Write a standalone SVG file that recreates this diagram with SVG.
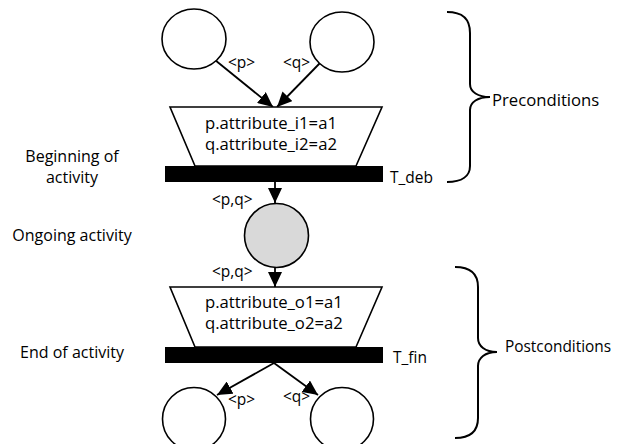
<svg xmlns="http://www.w3.org/2000/svg" width="620" height="444" viewBox="0 0 620 444">
<style>
.t{font-family:"Open Sans","Liberation Sans",sans-serif;font-size:16px;fill:#000}
.g{font-family:"Open Sans","Liberation Sans",sans-serif;font-size:16.7px;fill:#000}
.s{font-family:"Open Sans","Liberation Sans",sans-serif;font-size:15.5px;fill:#000}
.m{text-anchor:middle}
.pl{fill:#fff;stroke:#000;stroke-width:1.6}
.bar{fill:#000}
.ar{stroke:#000;stroke-width:1.8;fill:none;marker-end:url(#ah)}
.br{stroke:#000;stroke-width:2;fill:none}
</style>
<defs>
<marker id="ah" markerUnits="userSpaceOnUse" markerWidth="15" markerHeight="14" refX="15" refY="7" orient="auto">
<path d="M0,0 L15,7 L0,14 z" fill="#000"/>
</marker>
</defs>
<rect width="620" height="444" fill="#fff"/>
<g id="connectors">
<line class="ar" x1="215" y1="60" x2="273" y2="107"/>
<line class="ar" x1="320" y1="63" x2="277" y2="107"/>
<line class="ar" x1="275" y1="182" x2="275" y2="203"/>
<line class="ar" x1="275" y1="268" x2="275" y2="287"/>
<line class="ar" x1="274" y1="363" x2="217" y2="395"/>
<line class="ar" x1="274" y1="363" x2="318" y2="395"/>
</g>
<g id="place-p-in"><ellipse class="pl" cx="194" cy="39" rx="32" ry="30"/></g>
<g id="place-q-in"><ellipse class="pl" cx="342" cy="42" rx="32" ry="30"/></g>
<g id="guard-deb">
<polygon class="pl" points="170,107 382,107 356,166 195,166"/>
<text class="g" x="205" y="129">p.attribute_i1=a1</text>
<text class="g" x="205" y="150">q.attribute_i2=a2</text>
</g>
<g id="T_deb">
<rect class="bar" x="165" y="166" width="218" height="16"/>
<text class="s" x="390" y="183">T_deb</text>
</g>
<g id="place-ongoing"><circle cx="276.5" cy="235.5" r="32" fill="#d9d9d9" stroke="#000" stroke-width="1.6"/></g>
<g id="guard-fin">
<polygon class="pl" points="170,287 382,287 356,347 195,347"/>
<text class="g" x="205" y="308">p.attribute_o1=a1</text>
<text class="g" x="205" y="329">q.attribute_o2=a2</text>
</g>
<g id="T_fin">
<rect class="bar" x="165" y="347" width="218" height="16"/>
<text class="s" x="393" y="363">T_fin</text>
</g>
<g id="place-p-out"><circle class="pl" cx="194" cy="419" r="31.5"/></g>
<g id="place-q-out"><circle class="pl" cx="342" cy="419" r="31.5"/></g>
<g id="labels">
<text class="s" x="228" y="68">&lt;p&gt;</text>
<text class="s" x="283" y="68">&lt;q&gt;</text>
<text class="s" x="212" y="205">&lt;p,q&gt;</text>
<text class="s" x="212" y="277">&lt;p,q&gt;</text>
<text class="s" x="228" y="405">&lt;p&gt;</text>
<text class="s" x="283" y="402">&lt;q&gt;</text>
<text class="t m" x="72" y="162">Beginning of</text>
<text class="t m" x="72" y="183">activity</text>
<text class="t m" x="72" y="241">Ongoing activity</text>
<text class="t m" x="72" y="358">End of activity</text>
</g>
<g id="preconditions">
<path class="br" d="M447,12 C462,12 470,18 470,33 L470,84 C470,92 478,97 490,97 C478,97 470,102 470,110 L470,166 C470,176 462,182 447,182"/>
<text class="g" x="492" y="106">Preconditions</text>
</g>
<g id="postconditions">
<path class="br" d="M455,267 C470,267 478,274 478,287 L478,338 C478,346 485,352 497,352 C485,352 478,358 478,366 L478,418 C478,431 470,438 455,438"/>
<text class="t" x="505" y="352" style="font-size:15.4px">Postconditions</text>
</g>
</svg>
